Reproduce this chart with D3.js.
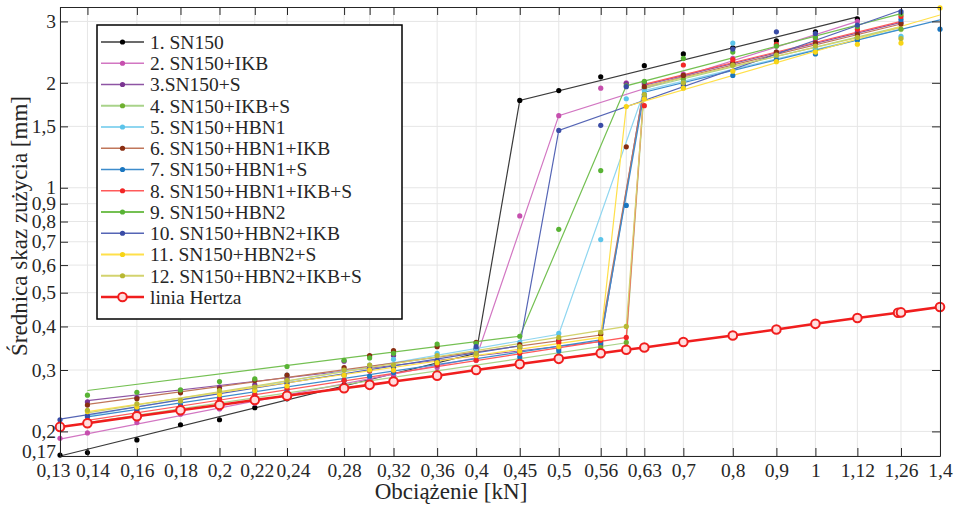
<!DOCTYPE html>
<html>
<head>
<meta charset="utf-8">
<script src="https://cdn.jsdelivr.net/npm/d3@7"></script>
<style>
  body { margin: 0; background: #fff; }
  text { font-family: "Liberation Serif", "DejaVu Serif", serif; fill: #262626; }
</style>
</head>
<body>
<svg id="chart" width="955" height="506"></svg>
<script>
// load steps [kN] where wear scars were measured
const loads = [0.13, 0.14, 0.16, 0.18, 0.2, 0.22, 0.24, 0.28, 0.3, 0.32, 0.36, 0.4,
  0.45, 0.5, 0.56, 0.6, 0.63, 0.7, 0.8, 0.9, 1, 1.12, 1.26, 1.4];

const xTicks = [0.13, 0.14, 0.16, 0.18, 0.2, 0.22, 0.24, 0.28, 0.3, 0.32, 0.36, 0.4,
  0.45, 0.5, 0.56, 0.6, 0.63, 0.7, 0.8, 0.9, 1, 1.12, 1.26, 1.4];
const xUnlabelled = [0.3, 0.6];
const yTicks = [0.17, 0.2, 0.3, 0.4, 0.5, 0.6, 0.7, 0.8, 0.9, 1, 1.5, 2, 3];

const names = ["1. SN150", "2. SN150+IKB", "3.SN150+S", "4. SN150+IKB+S", "5. SN150+HBN1",
  "6. SN150+HBN1+IKB", "7. SN150+HBN1+S", "8. SN150+HBN1+IKB+S", "9. SN150+HBN2",
  "10. SN150+HBN2+IKB", "11. SN150+HBN2+S", "12. SN150+HBN2+IKB+S"];
const dotColors = ["#000000", "#c64fae", "#7b3592", "#6fb030", "#5cc4ea", "#8a2e12",
  "#1a76c0", "#f22626", "#58b334", "#3a4ca6", "#f7d416", "#b8b832"];
const lineColors = ["#3a3a3a", "#d276c2", "#8e55a4", "#a9d38a", "#8fd6f0", "#c0765a",
  "#3d8ccc", "#ff5a5a", "#74c052", "#5565b5", "#ffe04a", "#d3d36e"];

// measured scar diameters [mm], aligned with loads (null = no point)
const d1 = [0.171, 0.174, 0.189, 0.209, 0.216, 0.234, 0.248, 0.272, 0.278, 0.290, 0.315, 0.345,
  1.78, 1.90, 2.08, null, 2.24, 2.42, 2.52, 2.64, 2.80, 3.05, null, null];
const d2 = [0.191, 0.198, 0.212, 0.224, 0.232, 0.241, 0.258, 0.270, 0.282, 0.290, 0.305, 0.320,
  0.83, 1.61, 1.93, 2.00, 1.98, 2.12, 2.35, 2.55, 2.75, 3.00, null, null];
const d3v = [null, 0.243, 0.250, 0.262, 0.268, 0.272, 0.283, 0.318, 0.305, 0.330, 0.312, 0.335,
  0.340, 0.345, 0.355, 1.99, 2.00, 2.10, 2.28, 2.45, 2.62, 2.80, 2.98, null];
const d4 = [null, 0.212, 0.220, 0.228, 0.238, 0.243, 0.252, 0.268, 0.272, 0.280, 0.295, 0.305,
  0.318, 0.330, 0.348, 0.360, 1.93, 2.05, 2.25, 2.40, 2.50, 2.70, 2.85, null];
const d5 = [null, 0.222, 0.232, 0.240, 0.250, 0.260, 0.290, 0.300, 0.310, 0.322, 0.335, 0.345,
  0.360, 0.382, 0.71, 1.80, 1.90, 2.00, 2.60, 2.38, 2.52, 2.68, 2.72, null];
const d6 = [null, 0.238, 0.248, 0.258, 0.265, 0.280, 0.290, 0.305, 0.330, 0.341, 0.350, 0.360,
  0.355, 0.365, 0.380, 1.31, 1.95, 2.10, 2.28, 2.45, 2.60, 2.75, 2.95, null];
const d7 = [null, 0.220, 0.228, 0.238, 0.248, 0.255, 0.262, 0.280, 0.288, 0.295, 0.310, 0.330,
  0.327, 0.340, 0.360, 0.89, 1.85, 1.95, 2.10, 2.33, 2.42, 2.65, 3.04, 2.85];
const d8 = [null, 0.215, 0.228, 0.235, 0.248, 0.255, 0.266, 0.280, 0.298, 0.300, 0.310, 0.320,
  0.335, 0.360, 0.365, 0.372, 1.72, 2.25, 2.33, 2.58, 2.69, 2.85, 3.10, null];
const d9 = [null, 0.254, 0.259, 0.263, 0.278, 0.283, 0.307, 0.320, 0.325, 0.335, 0.356, 0.358,
  0.375, 0.76, 1.12, 1.96, 2.02, 2.35, 2.45, 2.55, 2.70, 2.90, 3.15, null];
const d10 = [0.216, 0.222, 0.232, 0.245, 0.255, 0.262, 0.275, 0.290, 0.300, 0.305, 0.320, 0.350,
  0.348, 1.46, 1.51, 1.95, 1.81, 1.98, 2.50, 2.80, 2.77, 2.93, 3.20, null];
const d11 = [null, 0.228, 0.235, 0.245, 0.255, 0.262, 0.270, 0.290, 0.300, 0.300, 0.315, 0.330,
  0.340, 0.350, 0.370, 1.71, 1.80, 1.93, 2.16, 2.30, 2.45, 2.58, 2.60, 3.28];
const d12 = [null, 0.230, 0.240, 0.245, 0.262, 0.268, 0.280, 0.300, 0.310, 0.310, 0.330, 0.335,
  0.350, 0.372, 0.385, 0.400, 1.85, 2.00, 2.25, 2.40, 2.55, 2.70, 2.68, null];

// fitted trend lines: [load, diameter] breakpoints
const f1 = [[0.13, 0.17], [0.4, 0.335], [0.45, 1.78], [1.12, 3.09]];
const f2 = [[0.13, 0.19], [0.4, 0.325], [0.5, 1.61], [1.12, 3.0]];
const f3 = [[0.14, 0.245], [0.56, 0.362], [0.63, 1.97], [1.26, 2.98]];
const f4 = [[0.14, 0.212], [0.6, 0.359], [0.63, 1.93], [1.26, 2.9]];
const f5 = [[0.14, 0.222], [0.5, 0.38], [0.63, 1.9], [1.26, 2.85]];
const f6 = [[0.14, 0.239], [0.56, 0.378], [0.63, 1.95], [1.26, 2.95]];
const f7 = [[0.14, 0.22], [0.56, 0.366], [0.63, 1.88], [1.4, 3.03]];
const f8 = [[0.14, 0.215], [0.6, 0.372], [0.63, 1.98], [1.26, 3.0]];
const f9 = [[0.14, 0.262], [0.45, 0.375], [0.6, 1.96], [1.26, 3.16]];
const f10 = [[0.13, 0.217], [0.45, 0.352], [0.5, 1.46], [1.26, 3.23]];
const f11 = [[0.14, 0.228], [0.56, 0.372], [0.6, 1.71], [1.4, 3.13]];
const f12 = [[0.14, 0.226], [0.6, 0.40], [0.63, 1.95], [1.26, 2.88]];

// Hertz line
const hertzLoads = [0.13, 0.14, 0.16, 0.18, 0.2, 0.22, 0.24, 0.28, 0.3, 0.32, 0.36, 0.4,
  0.45, 0.5, 0.56, 0.6, 0.63, 0.7, 0.8, 0.9, 1, 1.12, 1.25, 1.26, 1.4];
const hertzValues = [0.206, 0.211, 0.221, 0.230, 0.238, 0.246, 0.253, 0.266, 0.272, 0.278, 0.289, 0.300,
  0.312, 0.323, 0.335, 0.343, 0.348, 0.361, 0.377, 0.392, 0.407, 0.423, 0.438, 0.439, 0.455];

const dots = [d1, d2, d3v, d4, d5, d6, d7, d8, d9, d10, d11, d12];
const fits = [f1, f2, f3, f4, f5, f6, f7, f8, f9, f10, f11, f12];

const svg = d3.select("#chart");
const mLeft = 60, mRight = 940, mTop = 7, mBottom = 456;

const x = d3.scaleLog().domain([0.13, 1.4]).range([mLeft, mRight]);
const y = d3.scaleLog().domain([0.17, 3.3]).range([mBottom, mTop]);
const fmt = d => String(d).replace(".", ",");

// grid
svg.append("g").selectAll("line").data(xTicks).enter().append("line")
  .attr("x1", d => x(d)).attr("x2", d => x(d))
  .attr("y1", mTop).attr("y2", mBottom)
  .style("stroke", "#e6e6e6").style("stroke-width", 1);
svg.append("g").selectAll("line").data(yTicks).enter().append("line")
  .attr("x1", mLeft).attr("x2", mRight)
  .attr("y1", d => y(d)).attr("y2", d => y(d))
  .style("stroke", "#e6e6e6").style("stroke-width", 1);

// fitted lines
const line = d3.line().x(d => x(d[0])).y(d => y(d[1]));
fits.forEach((f, i) => {
  svg.append("path")
    .datum(f)
    .attr("d", line)
    .style("fill", "none")
    .style("stroke", lineColors[i])
    .style("stroke-width", 1.2);
});

// measured points
dots.forEach((vals, i) => {
  const pts = loads.map((l, j) => [l, vals[j]]).filter(p => p[1] !== null);
  svg.append("g").selectAll("circle").data(pts).enter().append("circle")
    .attr("cx", d => x(d[0]))
    .attr("cy", d => y(d[1]))
    .attr("r", 2.6)
    .style("fill", dotColors[i]);
});

// Hertz line
const hertz = hertzLoads.map((l, j) => [l, hertzValues[j]]);
svg.append("path")
  .datum(hertz)
  .attr("d", line)
  .style("fill", "none")
  .style("stroke", "#f01e1e")
  .style("stroke-width", 2.6);
svg.append("g").selectAll("circle").data(hertz).enter().append("circle")
  .attr("cx", d => x(d[0]))
  .attr("cy", d => y(d[1]))
  .attr("r", 4.3)
  .style("fill", "#ffdede")
  .style("stroke", "#f01e1e")
  .style("stroke-width", 2);

// axes (ticks pointing inwards)
const axisStyle = g => {
  g.select(".domain").style("stroke", "#262626");
  g.selectAll(".tick line").style("stroke", "#262626");
  g.selectAll("text").style("font-family", "Liberation Serif, serif").style("font-size", "19.5px").style("fill", "#262626");
};
// crowded labels are nudged sideways, as in the original
const xLabelShift = {0.13: -7, 0.14: 5, 0.22: 2, 0.24: 6};
svg.append("g")
  .attr("transform", "translate(0," + mBottom + ")")
  .call(d3.axisBottom(x).tickValues(xTicks).tickSize(-8).tickSizeOuter(0).tickPadding(7)
    .tickFormat(d => xUnlabelled.includes(d) ? "" : fmt(d)))
  .call(axisStyle)
  .call(g => g.selectAll(".tick text").attr("dx", d => xLabelShift[d] || 0));
svg.append("g")
  .attr("transform", "translate(0," + mTop + ")")
  .call(d3.axisTop(x).tickValues(xTicks).tickSize(-8).tickSizeOuter(0).tickFormat(""))
  .call(axisStyle);
svg.append("g")
  .attr("transform", "translate(" + mLeft + ",0)")
  .call(d3.axisLeft(y).tickValues(yTicks).tickSize(-8).tickSizeOuter(0).tickPadding(4).tickFormat(fmt))
  .call(axisStyle)
  .call(g => g.selectAll(".tick text").attr("y", d => d === 0.17 ? -5 : 0));
svg.append("g")
  .attr("transform", "translate(" + mRight + ",0)")
  .call(d3.axisRight(y).tickValues(yTicks).tickSize(-8).tickSizeOuter(0).tickFormat(""))
  .call(axisStyle);

// axis titles
svg.append("text")
  .attr("x", 451).attr("y", 499)
  .attr("text-anchor", "middle")
  .style("font-size", "23px")
  .text("Obciążenie [kN]");
svg.append("text")
  .attr("transform", "translate(27,226) rotate(-90)")
  .attr("text-anchor", "middle")
  .style("font-size", "23px")
  .text("Średnica skaz zużycia [mm]");

// legend
const legend = svg.append("g");
legend.append("rect")
  .attr("x", 97).attr("y", 25).attr("width", 305).attr("height", 294)
  .style("fill", "#fff").style("stroke", "#000").style("stroke-width", 1.5);
const legendRow = 21.25;
names.forEach((n, i) => {
  const ly = 42 + i * legendRow;
  legend.append("line").attr("x1", 101).attr("x2", 144).attr("y1", ly).attr("y2", ly)
    .style("stroke", lineColors[i]).style("stroke-width", i === 3 || i === 4 || i === 8 || i === 10 || i === 11 ? 2.2 : 1.3);
  legend.append("circle").attr("cx", 122.5).attr("cy", ly).attr("r", 2.6).style("fill", dotColors[i]);
  legend.append("text").attr("x", 150).attr("y", ly).attr("dy", "0.35em")
    .style("font-size", "19.5px").text(n);
});
const hy = 42 + 12 * legendRow;
legend.append("line").attr("x1", 101).attr("x2", 144).attr("y1", hy).attr("y2", hy)
  .style("stroke", "#f01e1e").style("stroke-width", 2.6);
legend.append("circle").attr("cx", 122.5).attr("cy", hy).attr("r", 4.3)
  .style("fill", "#ffdede").style("stroke", "#f01e1e").style("stroke-width", 2);
legend.append("text").attr("x", 150).attr("y", hy).attr("dy", "0.35em")
  .style("font-size", "19.5px").text("linia Hertza");
</script>
</body>
</html>
